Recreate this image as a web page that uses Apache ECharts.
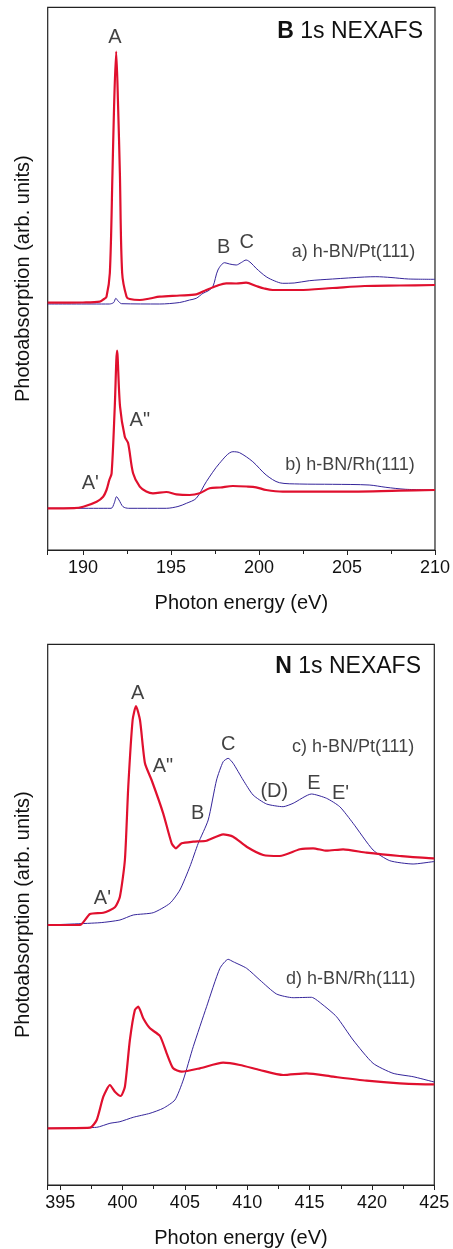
<!DOCTYPE html>
<html>
<head>
<meta charset="utf-8">
<script src="https://cdn.jsdelivr.net/npm/echarts@6/dist/echarts.min.js"></script>
<style>
html,body{margin:0;padding:0;background:#fff;}
#chart{width:453px;height:1249px;}
</style>
</head>
<body>
<div id="chart"></div>
<script>
// ---------- B 1s NEXAFS (photon energy eV, intensity arb. units) ----------
const B_Pt_red = [
  [188.0,247.3],[190.0,247.5],[190.96,248.3],[191.2,251],[191.34,253.3],[191.53,277],
  [191.68,377],[191.77,443],[191.89,498.3],[192.0,443],[192.10,377],[192.23,277],
  [192.48,253.3],[192.66,251],[193.23,250],[193.8,251.5],[194.36,253.3],[195.5,254.5],
  [196.44,255.7],[197.01,260],[197.58,264],[198.14,266.7],[198.71,266.5],[199.27,267.3],
  [199.84,264],[200.3,261.5],[200.78,260],[202.29,260],[204.18,262],[206.0,264],
  [208.0,264.5],[210.0,265]
];
const B_Pt_blue = [
  [188.0,246],[191.5,246],[191.75,247.5],[191.87,251.7],[192.0,249],[192.2,246.3],
  [194.36,246],[195.5,247.5],[196.06,250],[196.44,251.7],[196.82,256.7],[197.1,259],
  [197.38,263.3],[197.67,280],[198.05,287.3],[198.33,286],[198.71,285],[199.0,287.5],
  [199.27,290],[199.55,287],[199.84,281.7],[200.41,273.3],[200.9,269],[201.35,266.7],
  [202.0,267],[202.86,269.3],[204.18,271],[206.0,273],[206.64,273.3],[207.5,272.5],
  [208.5,271],[210.0,270.7]
];
const B_Rh_red = [
  [188.0,41.7],[189.5,41.9],[190.02,43.3],[190.78,48.3],[191.15,53.3],[191.34,60],
  [191.5,70],[191.63,76.7],[191.81,143.3],[191.94,199.3],[192.11,143.3],[192.38,113.3],
  [192.57,106.7],[192.85,76.7],[193.23,63.3],[193.6,58.5],[193.98,56.7],[194.74,58],
  [195.31,55.7],[196.06,55],[196.63,56.7],[197.2,61.7],[197.8,62.5],[198.52,64],
  [199.3,63.5],[199.84,62.7],[200.41,60],[201.35,58.3],[204.18,58.3],[207.96,59.3],
  [210.0,60]
];
const B_Rh_blue = [
  [188.0,41.7],[191.6,41.7],[191.78,47],[191.91,53.3],[192.05,50],[192.28,43.3],
  [192.6,41.7],[194.74,41.7],[195.4,43.5],[195.88,46.7],[196.44,51.7],[197.01,68.3],
  [197.76,86.7],[198.52,98.3],[198.9,97.3],[199.65,88.3],[200.41,75],[201.16,67.3],
  [202.29,66],[204.18,65.7],[206.26,65],[207.21,62.7],[208.34,60.7],[210.0,60]
];
const B_labels = [
  [191.82,512.5,'A'],[197.99,302.5,'B'],[199.31,307.5,'C'],
  [193.23,130,'A"'],[190.42,66.7,"A'"]
];
const B_samples = [
  [205.37,297.5,'a) h-BN/Pt(111)'],[205.17,85,'b) h-BN/Rh(111)']
];

// ---------- N 1s NEXAFS ----------
const N_Pt_red = [
  [394.0,260],[396.59,260],[397.39,271],[398.46,272.3],[399.39,277.7],[399.79,288.3],
  [400.19,325],[400.46,398.3],[400.81,465],[401.08,479],[401.40,465],[401.80,421.7],
  [402.33,405],[403.26,371.7],[403.94,341.7],[404.28,336.7],[404.74,341.7],[405.67,343.3],
  [406.74,344.3],[408.07,350.7],[408.87,348.3],[409.95,338.3],[411.28,330],[412.61,329],
  [414.22,335.7],[415.28,336.7],[416.36,334.3],[417.69,335.7],[419.56,332.3],[422.23,329],
  [424.90,326.7],[425.0,326.7]
];
const N_Pt_blue = [
  [394.0,260],[398.19,262.3],[399.79,265],[400.86,270],[402.46,272.3],[403.80,281.7],
  [404.60,295],[405.40,318.3],[406.07,341.7],[406.87,365],[407.54,405],[408.07,423.3],
  [408.47,426.7],[408.87,421.7],[409.67,405],[410.47,390],[411.55,381],[412.88,378.3],
  [413.68,381.7],[415.15,391],[416.36,386.7],[417.42,378.3],[418.49,361.7],[420.09,335],
  [421.43,324.3],[423.30,321],[424.90,323.3],[425.0,323.5]
];
const N_Rh_red = [
  [394.0,56.7],[397.39,57.3],[397.93,65],[398.46,88.3],[398.99,100],[399.39,93.3],
  [399.85,89],[400.19,98.3],[400.59,145],[400.99,175],[401.26,178.3],[401.66,166.7],
  [402.20,156.7],[403.00,149],[403.54,131.7],[404.06,116.7],[404.74,113.3],[406.20,116.7],
  [408.07,122.3],[409.41,120],[411.01,115],[412.88,110],[414.75,111.7],[416.89,108.3],
  [419.56,104.3],[422.23,101.7],[424.90,100.7],[425.0,100.7]
];
const N_Rh_blue = [
  [394.0,56.7],[397.93,57.7],[398.99,61.7],[399.79,63.3],[400.86,67.7],[402.20,71.7],
  [403.26,76.7],[404.20,85],[404.87,105],[405.67,138.3],[406.74,178.3],[407.81,216.7],
  [408.47,225.7],[408.87,223.3],[409.95,216.7],[411.01,205],[412.35,191],[413.68,187.3],
  [415.15,187.7],[416.08,180],[417.16,168.3],[418.49,145],[420.09,121.7],[421.69,111.7],
  [423.30,108.3],[424.90,103.3],[425.0,103.2]
];
const N_labels = [
  [401.21,491.7,'A'],[403.24,418.8,'A"'],[408.47,441,'C'],[406.02,371.7,'B'],
  [412.17,393.3,'(D)'],[415.34,401.7,'E'],[417.48,391.7,"E'"],[398.39,286.7,"A'"]
];
const N_samples = [
  [418.49,438.3,'c) h-BN/Pt(111)'],[418.30,206,'d) h-BN/Rh(111)']
];

const RED = '#e0102e';
const BLUE = '#35259a';
const FONT = "'Liberation Sans', Arial, Helvetica, sans-serif";
const TXT = '#111';

function xAxisCfg(gridIndex, min, max) {
  return {
    type: 'value', gridIndex, min, max, splitNumber: 5,
    name: 'Photon energy (eV)', nameLocation: 'middle', nameGap: 43,
    nameTextStyle: { fontFamily: FONT, fontSize: 20, color: TXT },
    axisLine: { show: true, lineStyle: { color: '#222', width: 1.2 } },
    axisTick: { show: true, inside: false, length: 5, lineStyle: { color: '#222' } },
    minorTick: { show: true, splitNumber: 2, length: 4, lineStyle: { color: '#222' } },
    axisLabel: { fontFamily: FONT, fontSize: 18, color: TXT, margin: 9, showMinLabel: false },
    splitLine: { show: false }
  };
}
function yAxisCfg(gridIndex, max) {
  return {
    type: 'value', gridIndex, min: 0, max,
    name: 'Photoabsorption (arb. units)', nameLocation: 'middle', nameGap: 14,
    nameTextStyle: { fontFamily: FONT, fontSize: 20, color: TXT },
    axisLine: { show: false }, axisTick: { show: false }, axisLabel: { show: false },
    splitLine: { show: false }
  };
}
function lineSeries(data, color, width, idx, smooth) {
  return {
    type: 'line', data, xAxisIndex: idx, yAxisIndex: idx, showSymbol: false,
    symbol: 'none', smooth: smooth, animation: false,
    lineStyle: { color, width, join: 'round' }, z: width > 1.5 ? 3 : 2
  };
}
function labelSeries(data, idx, size) {
  return {
    type: 'scatter', data, xAxisIndex: idx, yAxisIndex: idx, symbolSize: 0,
    animation: false, silent: true, z: 5,
    label: {
      show: true, position: 'inside', formatter: p => p.data[2],
      fontFamily: FONT, fontSize: size, color: TXT
    }
  };
}

const chart = echarts.init(document.getElementById('chart'), null, { renderer: 'canvas' });
chart.setOption({
  backgroundColor: '#fff',
  animation: false,
  title: [
    { text: '{b|B} 1s NEXAFS', right: 25, top: 15,
      textStyle: { fontFamily: FONT, fontSize: 23, fontWeight: 'normal', color: TXT,
        rich: { b: { fontFamily: FONT, fontSize: 23, fontWeight: 'bold', color: TXT } } } },
    { text: '{b|N} 1s NEXAFS', right: 27, top: 650,
      textStyle: { fontFamily: FONT, fontSize: 23, fontWeight: 'normal', color: TXT,
        rich: { b: { fontFamily: FONT, fontSize: 23, fontWeight: 'bold', color: TXT } } } }
  ],
  grid: [
    { left: 47.7, right: 16.7, top: 7.3, height: 542.7, show: true, borderColor: '#222', borderWidth: 1.2, backgroundColor: 'transparent' },
    { left: 47.7, right: 18.7, top: 644.3, height: 540.7, show: true, borderColor: '#222', borderWidth: 1.2, backgroundColor: 'transparent' }
  ],
  xAxis: [xAxisCfg(0, 188, 210), xAxisCfg(1, 394, 425)],
  yAxis: [yAxisCfg(0, 542.7), yAxisCfg(1, 540.7)],
  series: [
    lineSeries(B_Pt_blue, BLUE, 1, 0, 0.3),
    lineSeries(B_Pt_red, RED, 2.2, 0, 0.3),
    lineSeries(B_Rh_blue, BLUE, 1, 0, 0.3),
    lineSeries(B_Rh_red, RED, 2.2, 0, 0.3),
    labelSeries(B_labels, 0, 20),
    labelSeries(B_samples, 0, 18),
    lineSeries(N_Pt_blue, BLUE, 1, 1, 0.2),
    lineSeries(N_Pt_red, RED, 2.2, 1, 0.2),
    lineSeries(N_Rh_blue, BLUE, 1, 1, 0.2),
    lineSeries(N_Rh_red, RED, 2.2, 1, 0.2),
    labelSeries(N_labels, 1, 20),
    labelSeries(N_samples, 1, 18)
  ]
});
</script>
</body>
</html>
